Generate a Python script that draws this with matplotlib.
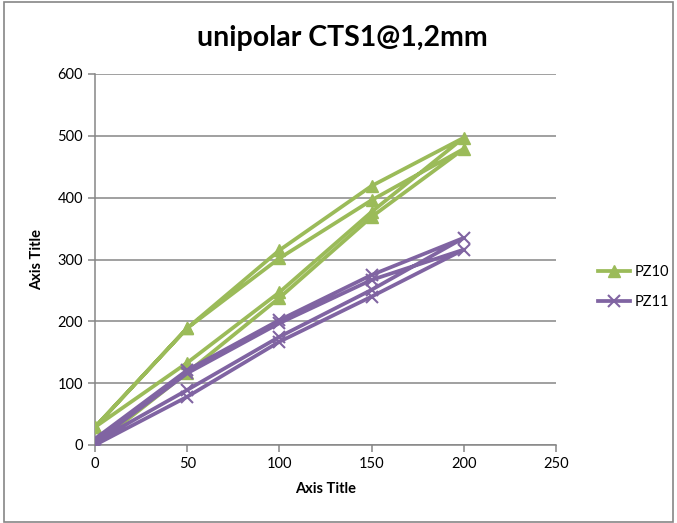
import matplotlib
matplotlib.use("Agg")
import matplotlib.pyplot as plt
from matplotlib.lines import Line2D

plt.rcParams['font.family'] = ['Lato', 'DejaVu Sans']

# load cycles: force steps 0..200 and back, two loops per sensor
pz10_x = [0, 50, 100, 150, 200, 150, 100, 50, 0, 50, 100, 150, 200, 150, 100, 50, 0]
pz10_y = [0, 117, 238, 369, 479, 396, 302, 189, 29, 133, 247, 377, 497, 419, 315, 189, 29]

pz11_x = [0, 50, 100, 150, 200, 150, 100, 50, 0, 50, 100, 150, 200, 150, 100, 50, 0]
pz11_y = [0, 78, 167, 240, 316, 267, 197, 116, 5, 89, 175, 251, 335, 275, 202, 121, 10]

x_ticks = [0, 50, 100, 150, 200, 250]
y_ticks = [0, 100, 200, 300, 400, 500, 600]

green = '#9BBB59'
purple = '#8064A2'
grid_col = '#868686'

fig = plt.figure(figsize=(6.77, 5.23), dpi=100)
ax = fig.add_axes([95 / 677, 1 - 445 / 523, (556 - 95) / 677, (445 - 74) / 523])

ax.plot(pz10_x, pz10_y, color=green, lw=2.7, marker='^', ms=8.5,
        markeredgecolor=green, label='PZ10', zorder=3)
ax.plot(pz11_x, pz11_y, color=purple, lw=2.7, marker='x', ms=8.5, mew=1.5,
        label='PZ11', zorder=3)

ax.set_xlim(0, 250)
ax.set_ylim(0, 600)
ax.set_xticks(x_ticks)
ax.set_yticks(y_ticks)
ax.yaxis.grid(True, color=grid_col, lw=1.1)
ax.set_axisbelow(True)
for s in ('top', 'right'):
    ax.spines[s].set_visible(False)
for s in ('left', 'bottom'):
    ax.spines[s].set_color(grid_col)
    ax.spines[s].set_linewidth(1.1)
ax.tick_params(axis='both', colors=grid_col, labelcolor='black',
               labelsize=10.5, length=5, width=1.1)

ax.set_xlabel('Axis Title', fontsize=10.5, fontweight='bold', labelpad=8)
ax.set_ylabel('Axis Title', fontsize=10.5, fontweight='bold', labelpad=10)

fig.text(342 / 677, 1 - 38 / 523, 'unipolar CTS1@1,2mm', ha='center', va='center',
         fontsize=20.5, fontweight='bold')

handles = [
    Line2D([], [], color=green, lw=2.7, marker='^', ms=8.5),
    Line2D([], [], color=purple, lw=2.7, marker='x', ms=8.5, mew=1.5),
]
fig.legend(handles, ['PZ10', 'PZ11'], loc='center left',
           bbox_to_anchor=(585 / 677, 1 - 287 / 523), frameon=False,
           fontsize=10.5, handlelength=2.2, handletextpad=0.3, labelspacing=1.1)

# chart area border
border = plt.Rectangle((4 / 677, 1 / 523), 669 / 677, 520 / 523, transform=fig.transFigure,
                       fill=False, edgecolor='#868686', lw=1.2)
fig.patches.append(border)

fig.savefig('out.png', dpi=100)
